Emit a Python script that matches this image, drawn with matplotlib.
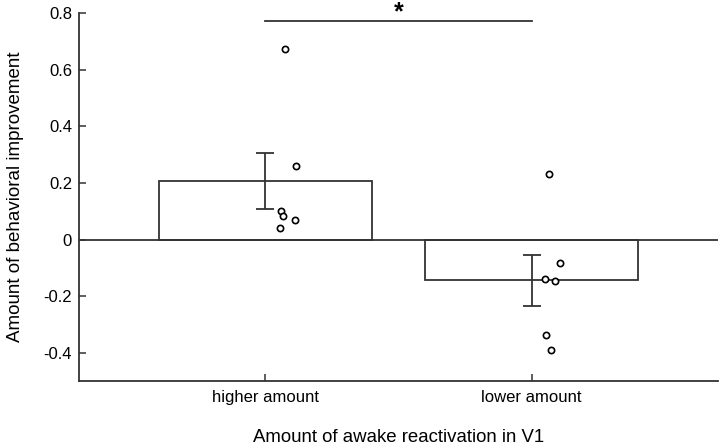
import matplotlib
matplotlib.use("Agg")
import matplotlib.pyplot as plt
import matplotlib.transforms as mtransforms

plt.rcParams['font.family'] = ['Liberation Sans', 'DejaVu Sans']

categories = ["higher amount", "lower amount"]
means = [0.206, -0.144]
sems = [0.099, 0.090]
pts_high_x = [1.075, 1.114, 1.059, 1.067, 1.113, 1.056]
pts_high_y = [0.674, 0.260, 0.102, 0.085, 0.071, 0.042]
pts_low_x = [2.067, 2.106, 2.051, 2.088, 2.055, 2.074]
pts_low_y = [0.232, -0.084, -0.139, -0.148, -0.337, -0.390]
yticks = [-0.4, -0.2, 0, 0.2, 0.4, 0.6, 0.8]
ytick_labels = ["-0.4", "-0.2", "0", "0.2", "0.4", "0.6", "0.8"]
sig_y = 0.774

lc = '#333333'
fig = plt.figure(figsize=(7.2, 4.48), dpi=100)
ax = fig.add_axes([0.1097, 0.1496, 0.8873, 0.8205])

xpos = [1, 2]
ax.bar(xpos, means, width=0.8, facecolor='white', edgecolor=lc, linewidth=1.3, zorder=2)
ax.axhline(0, color=lc, linewidth=1.3, zorder=3)
ax.errorbar(xpos, means, yerr=sems, fmt='none', ecolor=lc, elinewidth=1.3,
            capsize=6.5, capthick=1.3, zorder=4)
ax.plot(pts_high_x, pts_high_y, 'o', ms=4.5, mfc='white', mec='black', mew=1.2, zorder=5, linestyle='none')
ax.plot(pts_low_x, pts_low_y, 'o', ms=4.5, mfc='white', mec='black', mew=1.2, zorder=5, linestyle='none')

ax.plot([1, 2], [sig_y, sig_y], color=lc, linewidth=1.3, clip_on=False)
trans = mtransforms.blended_transform_factory(ax.transData, fig.transFigure)
ax.text(1.5, 0.999, '*', ha='center', va='top', fontsize=18, fontweight='bold',
        transform=trans)

ax.set_xlim(0.3, 2.7)
ax.set_ylim(-0.5, 0.8)
ax.set_xticks(xpos)
ax.set_xticklabels(categories, fontsize=12)
ax.set_yticks(yticks)
ax.set_yticklabels(ytick_labels, fontsize=12)
ax.tick_params(direction='in', length=5, width=1.1, color=lc)
ax.tick_params(axis='x', pad=6.5)
ax.tick_params(axis='y', pad=5)
for s in ['top', 'right']:
    ax.spines[s].set_visible(False)
for s in ['left', 'bottom']:
    ax.spines[s].set_color(lc)
    ax.spines[s].set_linewidth(1.3)

ax.set_xlabel("Amount of awake reactivation in V1", fontsize=13.4, labelpad=17)
ax.set_ylabel("Amount of behavioral improvement", fontsize=13.5, labelpad=14)

fig.savefig("out.png", dpi=100)
